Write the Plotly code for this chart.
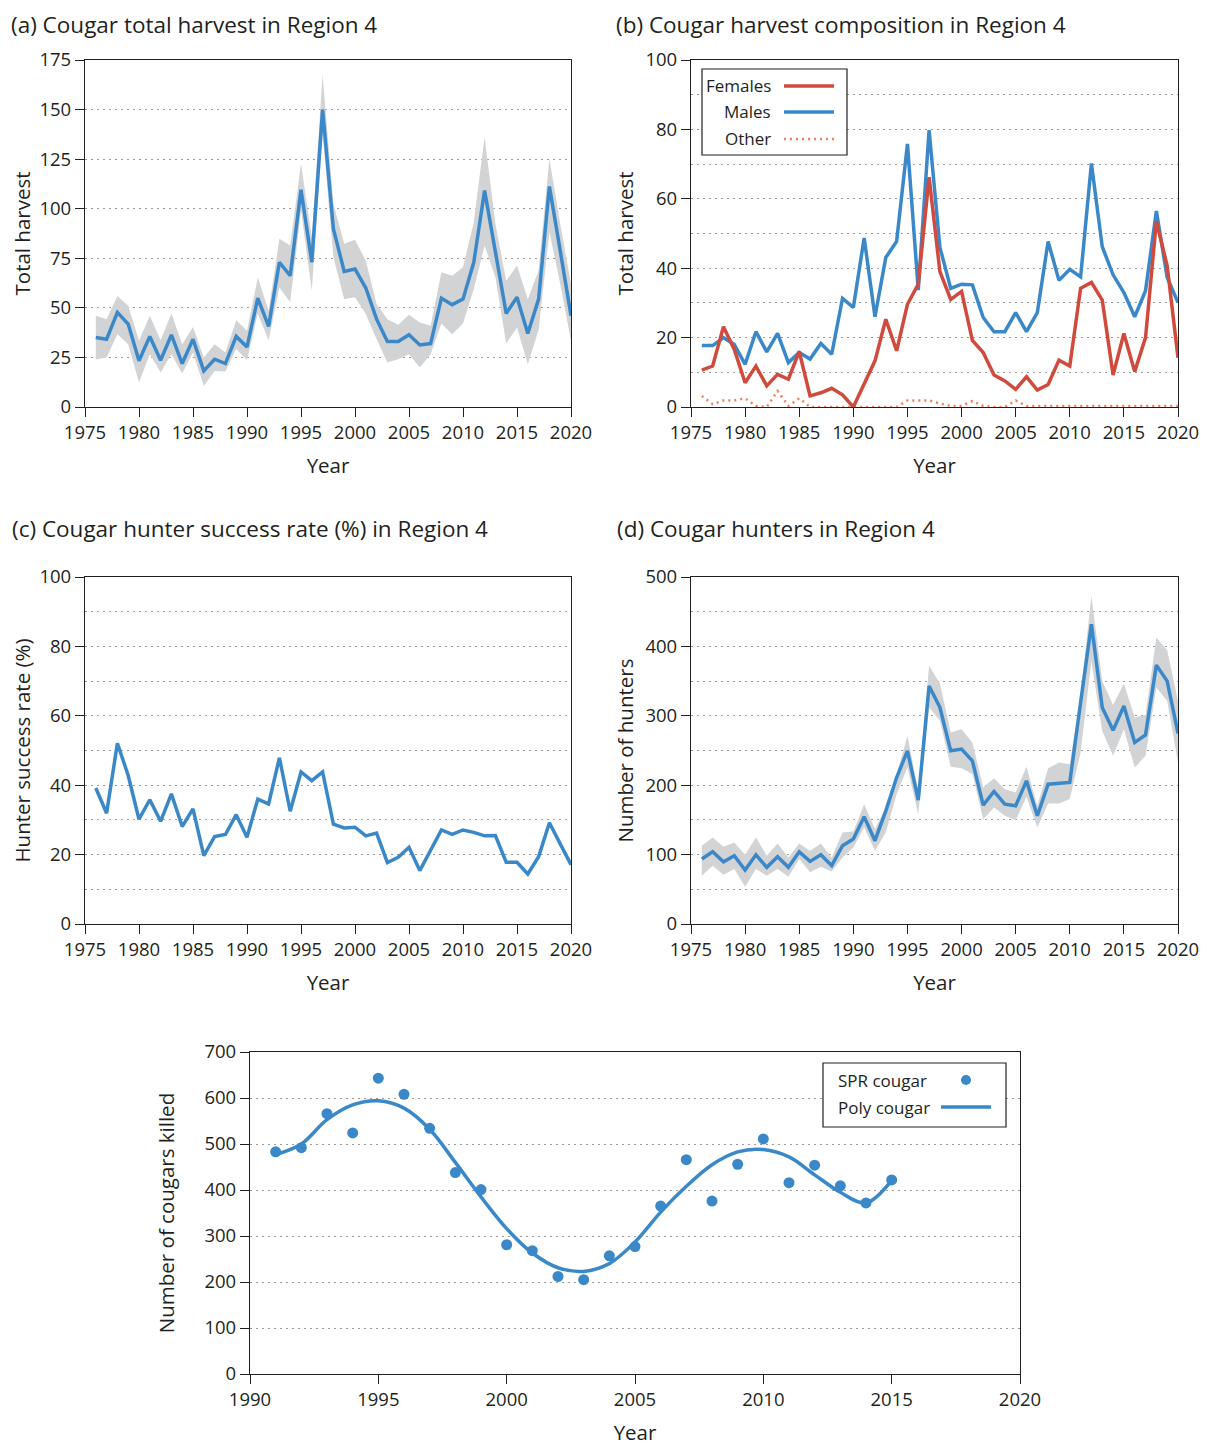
import plotly.graph_objects as go

# ---------------- data ----------------
years = list(range(1976, 2021))

# (a) total harvest
harvest = [35.1, 34.2, 47.7, 41.8, 23.3, 35.6, 23.6, 36.4, 21.9, 34.2,
           18.2, 24.1, 21.9, 35.6, 30.3, 54.9, 40.6, 73.0, 66.2, 109.6,
           73.0, 150.0, 89.8, 68.4, 69.6, 60.0, 44.3, 33.0, 33.0, 36.4,
           31.3, 32.0, 54.9, 51.6, 54.4, 73.0, 109.2, 78.9, 47.2, 55.3,
           37.1, 54.4, 111.2, 78.9, 46.0]
harvest_hi = [46.0, 44.3, 56.0, 51.0, 33.4, 46.0, 33.7, 47.2, 31.7, 40.4,
              25.0, 31.7, 27.5, 43.8, 38.4, 65.4, 48.5, 84.8, 81.4, 122.7,
              85.6, 167.4, 102.5, 82.3, 84.3, 73.8, 51.9, 44.3, 41.5, 46.5,
              42.6, 41.0, 67.9, 66.2, 70.5, 93.2, 136.2, 92.4, 63.7, 71.3,
              54.4, 68.8, 125.2, 92.4, 62.0]
harvest_lo = [24.0, 25.0, 36.7, 31.7, 12.3, 26.6, 17.4, 26.6, 16.9, 27.5,
              10.6, 18.2, 17.9, 29.2, 23.6, 47.2, 33.7, 60.3, 52.8, 99.1,
              58.7, 137.9, 75.5, 54.4, 55.3, 46.9, 34.2, 22.4, 24.1, 26.6,
              19.9, 26.6, 42.1, 36.7, 42.1, 59.5, 81.4, 65.4, 32.0, 40.1,
              21.6, 38.8, 88.2, 62.0, 33.4]

# (b) harvest composition
females = [10.6, 11.8, 23.1, 16.6, 7.0, 11.8, 6.1, 9.4, 8.0, 16.0,
           3.2, 4.1, 5.4, 3.5, 0.0, 6.5, 13.3, 25.3, 16.2, 29.6,
           35.4, 66.2, 39.0, 31.0, 33.3, 19.2, 15.7, 9.2, 7.5, 5.1,
           8.7, 4.9, 6.5, 13.5, 11.8, 34.2, 35.9, 30.8, 9.2, 21.2,
           10.2, 20.0, 53.5, 40.7, 14.2]
males = [17.7, 17.7, 20.0, 18.0, 12.3, 21.7, 15.9, 21.2, 12.8, 15.7,
         13.8, 18.3, 15.2, 31.3, 28.7, 48.7, 26.0, 43.1, 47.7, 75.8,
         33.7, 79.8, 46.0, 34.2, 35.4, 35.2, 25.8, 21.7, 21.7, 27.2,
         21.7, 27.2, 47.7, 36.5, 39.7, 37.5, 70.2, 46.2, 38.1, 33.0,
         26.0, 33.5, 56.5, 37.3, 30.1]
other = [3.2, 0.8, 1.9, 1.9, 2.5, 0.3, 0.0, 4.6, 0.3, 2.5,
         0.0, 0.0, 0.0, 0.0, 0.0, 0.0, 0.0, 0.0, 0.0, 1.9,
         1.9, 1.9, 1.0, 0.3, 0.3, 1.7, 0.3, 0.0, 0.0, 1.9,
         0.3, 0.3, 0.3, 0.3, 0.3, 0.3, 0.3, 0.3, 0.3, 0.3,
         0.3, 0.3, 0.3, 0.3, 0.3]

# (c) hunter success rate (%)
success = [39.2, 31.9, 52.1, 42.8, 30.2, 35.8, 29.6, 37.5, 28.1, 33.2,
           19.7, 25.2, 25.8, 31.5, 25.0, 36.0, 34.6, 47.9, 32.5, 43.8,
           41.3, 43.8, 28.8, 27.7, 27.9, 25.4, 26.2, 17.7, 19.2, 22.1,
           15.4, 21.2, 27.1, 25.8, 27.1, 26.4, 25.4, 25.5, 17.8, 17.8,
           14.4, 19.4, 29.2, 23.1, 17.1]

# (d) number of hunters
hunters = [93.6, 104.0, 89.7, 98.4, 77.7, 99.8, 81.6, 96.9, 81.6, 104.0,
           90.2, 99.8, 84.0, 112.8, 122.4, 154.5, 120.0, 163.0, 211.0, 249.5,
           178.5, 343.0, 312.0, 249.5, 252.0, 235.0, 171.3, 191.0, 172.7, 170.3,
           206.3, 156.0, 201.5, 202.5, 204.0, 319.0, 432.0, 312.0, 279.0, 314.0,
           261.5, 272.5, 373.0, 350.0, 274.5]
hunters_hi = [112.8, 124.8, 111.3, 117.6, 99.8, 124.8, 98.4, 116.0, 96.0, 116.0,
              105.6, 116.0, 96.0, 132.0, 133.4, 172.7, 136.8, 168.0, 216.0, 271.0,
              192.0, 372.0, 346.5, 276.0, 280.7, 261.5, 196.7, 210.0, 194.0, 189.5,
              226.5, 170.3, 224.6, 232.7, 230.3, 331.0, 472.6, 350.0, 315.7, 346.5,
              297.5, 301.0, 412.7, 394.4, 321.5]
hunters_lo = [69.6, 84.0, 71.0, 79.2, 53.7, 79.2, 69.6, 79.2, 68.0, 93.6,
              74.4, 82.5, 75.8, 96.0, 110.4, 139.0, 105.6, 132.0, 187.0, 225.5,
              158.0, 312.0, 292.7, 226.5, 224.6, 216.0, 151.0, 168.0, 156.0, 149.7,
              183.3, 139.0, 173.7, 173.7, 180.0, 247.0, 379.0, 278.0, 242.3, 280.7,
              225.5, 242.3, 340.7, 321.5, 232.7]

# (e) cougars killed
spr_years = list(range(1991, 2016))
spr_cougar = [483, 492, 566, 524, 643, 608, 534, 438, 401, 281,
              268, 212, 205, 257, 277, 365, 466, 376, 456, 511,
              416, 454, 409, 372, 422]
poly_cougar = [477, 500, 553, 585, 594, 578, 532, 460, 385, 316,
               263, 231, 223, 240, 287, 352, 408, 455, 483, 488,
               472, 433, 395, 372, 421]

# ---------------- style ----------------
BLUE = "#3b88c9"
RED = "#d04a3e"
SALMON = "#f27e5e"
BAND = "#d2d3d5"
AX = "#231f20"
GRID = "#9a9a9a"
FONT = "Open Sans"
TICKF = dict(family=FONT, size=18.5, color=AX)
TITLEF = dict(family=FONT, size=20.5, color=AX)

# page body has an 8px margin, so the figure is drawn offset by 8px
OFF = 8
W, H = 1207 - OFF, 1446 - OFF


def fx(px):
    return (px - OFF) / W


def fy(py):
    return 1 - (py - OFF) / H


fig = go.Figure()

# (a)
fig.add_trace(go.Scatter(x=years, y=harvest_hi, mode="lines", line=dict(width=0),
                         xaxis="x", yaxis="y", showlegend=False, hoverinfo="skip"))
fig.add_trace(go.Scatter(x=years, y=harvest_lo, mode="lines", line=dict(width=0),
                         fill="tonexty", fillcolor=BAND,
                         xaxis="x", yaxis="y", showlegend=False, hoverinfo="skip"))
fig.add_trace(go.Scatter(x=years, y=harvest, mode="lines", line=dict(color=BLUE, width=3.5),
                         xaxis="x", yaxis="y", name="Total harvest", showlegend=False))

# (b)
fig.add_trace(go.Scatter(x=years, y=other, mode="lines",
                         line=dict(color=SALMON, width=2.5, dash="2px,4px"),
                         xaxis="x2", yaxis="y2", name="Other", showlegend=False))
fig.add_trace(go.Scatter(x=years, y=males, mode="lines", line=dict(color=BLUE, width=3.5),
                         xaxis="x2", yaxis="y2", name="Males", showlegend=False))
fig.add_trace(go.Scatter(x=years, y=females, mode="lines", line=dict(color=RED, width=3.5),
                         xaxis="x2", yaxis="y2", name="Females", showlegend=False))

# (c)
fig.add_trace(go.Scatter(x=years, y=success, mode="lines", line=dict(color=BLUE, width=3.5),
                         xaxis="x3", yaxis="y3", name="Success rate", showlegend=False))

# (d)
fig.add_trace(go.Scatter(x=years, y=hunters_hi, mode="lines", line=dict(width=0),
                         xaxis="x4", yaxis="y4", showlegend=False, hoverinfo="skip"))
fig.add_trace(go.Scatter(x=years, y=hunters_lo, mode="lines", line=dict(width=0),
                         fill="tonexty", fillcolor=BAND,
                         xaxis="x4", yaxis="y4", showlegend=False, hoverinfo="skip"))
fig.add_trace(go.Scatter(x=years, y=hunters, mode="lines", line=dict(color=BLUE, width=3.5),
                         xaxis="x4", yaxis="y4", name="Hunters", showlegend=False))

# (e)
fig.add_trace(go.Scatter(x=spr_years, y=poly_cougar, mode="lines",
                         line=dict(color=BLUE, width=3.5, shape="spline", smoothing=1.0),
                         xaxis="x5", yaxis="y5", name="Poly cougar", showlegend=False))
fig.add_trace(go.Scatter(x=spr_years, y=spr_cougar, mode="markers",
                         marker=dict(color=BLUE, size=11),
                         xaxis="x5", yaxis="y5", name="SPR cougar", showlegend=False))


def xax(dom, anchor, rng, dtick, title):
    return dict(domain=dom, anchor=anchor, range=rng, dtick=dtick, tick0=rng[0],
                automargin=False,
                showline=True, mirror=True, linecolor=AX, linewidth=1.3,
                ticks="outside", ticklen=9, tickwidth=1.2, tickcolor=AX,
                showgrid=False, zeroline=False, tickfont=TICKF,
                title=dict(text=title, font=TITLEF, standoff=15))


def yax(dom, anchor, rng, dtick, title, minor=None, standoff=6):
    d = dict(domain=dom, anchor=anchor, range=rng, dtick=dtick, tick0=0,
             automargin=False,
             showline=True, mirror=True, linecolor=AX, linewidth=1.3,
             ticks="outside", ticklen=9, tickwidth=1.2, tickcolor=AX,
             showgrid=True, gridcolor=GRID, gridwidth=1, griddash="2px,4px",
             zeroline=False, tickfont=TICKF,
             title=dict(text=title, font=TITLEF, standoff=standoff))
    if minor is not None:
        d["minor"] = dict(dtick=minor, tick0=0, showgrid=True, gridcolor=GRID,
                          gridwidth=1, griddash="2px,4px", ticks="")
    return d


xa = [fx(85), fx(571)]
xb = [fx(691), fx(1178)]
ytop = [fy(407), fy(60)]
ymid = [fy(924), fy(577)]
xe = [fx(250), fx(1020)]
ye = [fy(1374), fy(1052)]

fig.update_layout(
    template="none",
    width=W, height=H,
    margin=dict(l=0, r=0, t=0, b=0, autoexpand=False),
    paper_bgcolor="white", plot_bgcolor="white",
    font=dict(family=FONT, color=AX),
    xaxis=xax(xa, "y", [1975, 2020], 5, "Year"),
    yaxis=yax(ytop, "x", [0, 175], 25, "Total harvest"),
    xaxis2=xax(xb, "y2", [1975, 2020], 5, "Year"),
    yaxis2=yax(ytop, "x2", [0, 100], 20, "Total harvest", minor=10),
    xaxis3=xax(xa, "y3", [1975, 2020], 5, "Year"),
    yaxis3=yax(ymid, "x3", [0, 100], 20, "Hunter success rate (%)", minor=10),
    xaxis4=xax(xb, "y4", [1975, 2020], 5, "Year"),
    yaxis4=yax(ymid, "x4", [0, 500], 100, "Number of hunters", minor=50),
    xaxis5=xax(xe, "y5", [1990, 2020], 5, "Year"),
    yaxis5=yax(ye, "x5", [0, 700], 100, "Number of cougars killed", standoff=24),
    showlegend=False,
)

# panel titles (top row anchored at the figure top so they are not clipped)
titles = [
    ("(a) Cougar total harvest in Region 4", 10, None),
    ("(b) Cougar harvest composition in Region 4", 615, None),
    ("(c) Cougar hunter success rate (%) in Region 4", 10, 528),
    ("(d) Cougar hunters in Region 4", 615, 528),
]
for txt, px, py in titles:
    if py is None:
        fig.add_annotation(text=txt, xref="paper", yref="paper", x=fx(px), y=1.0,
                           xanchor="left", yanchor="top", showarrow=False, borderpad=0,
                           font=dict(family=FONT, size=22.5, color=AX))
    else:
        fig.add_annotation(text=txt, xref="paper", yref="paper", x=fx(px), y=fy(py),
                           xanchor="left", yanchor="middle", showarrow=False,
                           font=dict(family=FONT, size=22.5, color=AX))

# legend (b): text followed by line sample
fig.add_shape(type="rect", xref="paper", yref="paper",
              x0=fx(702), x1=fx(847), y0=fy(155), y1=fy(69),
              line=dict(color=AX, width=1.2), fillcolor="white", layer="above")
leg_b = [("Females", RED, "solid", 3.5, 86), ("Males", BLUE, "solid", 3.5, 112),
         ("Other", SALMON, "2px,4px", 2.5, 139)]
for txt, col, dash, wd, py in leg_b:
    fig.add_annotation(text=txt, xref="paper", yref="paper", x=fx(773), y=fy(py),
                       xanchor="right", yanchor="middle", showarrow=False,
                       font=dict(family=FONT, size=17, color=AX))
    fig.add_shape(type="line", xref="paper", yref="paper",
                  x0=fx(784), x1=fx(834), y0=fy(py), y1=fy(py),
                  line=dict(color=col, width=wd, dash=dash), layer="above")

# legend (e)
fig.add_shape(type="rect", xref="paper", yref="paper",
              x0=fx(823), x1=fx(1006), y0=fy(1127), y1=fy(1063),
              line=dict(color=AX, width=1.2), fillcolor="white", layer="above")
fig.add_annotation(text="SPR cougar", xref="paper", yref="paper", x=fx(836), y=fy(1080),
                   xanchor="left", yanchor="middle", showarrow=False,
                   font=dict(family=FONT, size=17, color=AX))
fig.add_annotation(text="Poly cougar", xref="paper", yref="paper", x=fx(836), y=fy(1107),
                   xanchor="left", yanchor="middle", showarrow=False,
                   font=dict(family=FONT, size=17, color=AX))
fig.add_shape(type="circle", xref="paper", yref="paper",
              x0=fx(961), x1=fx(971), y0=fy(1085), y1=fy(1075),
              line=dict(color=BLUE, width=0), fillcolor=BLUE, layer="above")
fig.add_shape(type="line", xref="paper", yref="paper",
              x0=fx(941), x1=fx(991), y0=fy(1107), y1=fy(1107),
              line=dict(color=BLUE, width=3.5), layer="above")

fig.write_html("out.html")
